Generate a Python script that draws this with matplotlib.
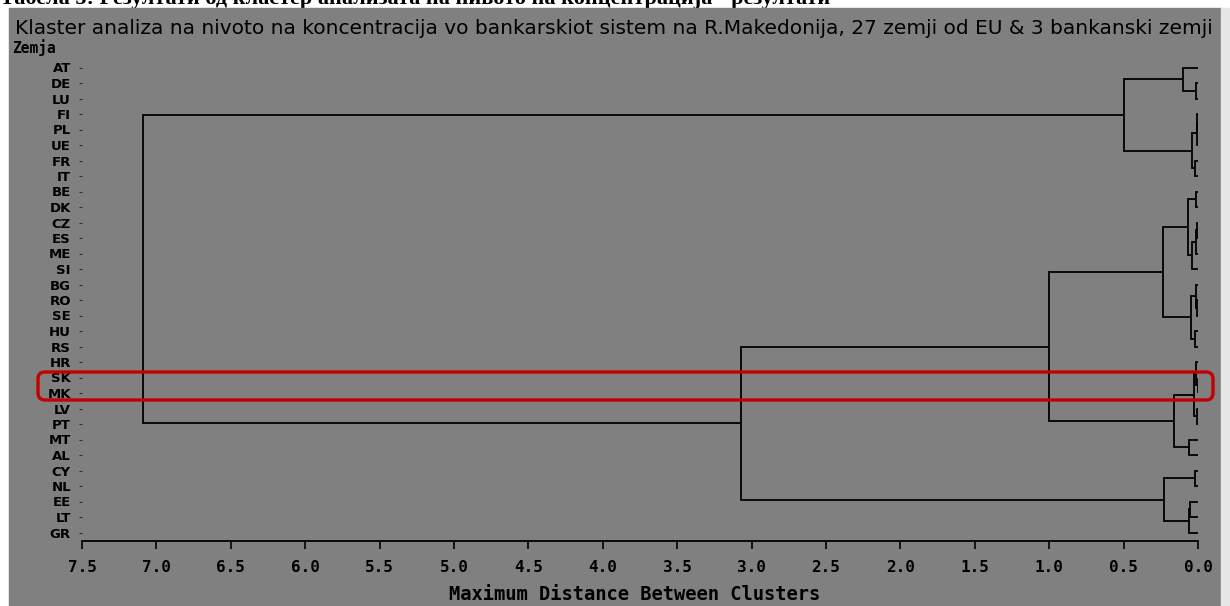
import matplotlib.pyplot as plt
from matplotlib.patches import Rectangle, FancyBboxPatch

# leaves, top to bottom
zemji = ["AT", "DE", "LU", "FI", "PL", "UE", "FR", "IT", "BE", "DK", "CZ",
         "ES", "ME", "SI", "BG", "RO", "SE", "HU", "RS", "HR", "SK", "MK",
         "LV", "PT", "MT", "AL", "CY", "NL", "EE", "LT", "GR"]

# merges: (left, right, distance); str = leaf, int = index of earlier merge
spojuvanja = [
    ("DE", "LU", 0.015),   # 0
    ("AT", 0, 0.10),       # 1
    ("FI", "PL", 0.005),   # 2
    (2, "UE", 0.010),      # 3
    ("FR", "IT", 0.018),   # 4
    (3, 4, 0.040),         # 5
    (1, 5, 0.50),          # 6
    ("BE", "DK", 0.015),   # 7
    ("CZ", "ES", 0.005),   # 8
    (8, "ME", 0.012),      # 9
    (9, "SI", 0.040),      # 10
    (7, 10, 0.070),        # 11
    ("RO", "SE", 0.005),   # 12
    ("BG", 12, 0.012),     # 13
    ("HU", "RS", 0.018),   # 14
    (13, 14, 0.047),       # 15
    (11, 15, 0.237),       # 16
    ("SK", "MK", 0.003),   # 17
    ("HR", 17, 0.012),     # 18
    ("LV", "PT", 0.008),   # 19
    (18, 19, 0.027),       # 20
    ("MT", "AL", 0.058),   # 21
    (20, 21, 0.16),        # 22
    (16, 22, 1.00),        # 23
    ("CY", "NL", 0.018),   # 24
    ("EE", "LT", 0.052),   # 25
    (25, "GR", 0.060),     # 26
    (24, 26, 0.23),        # 27
    (23, 27, 3.07),        # 28
    (6, 28, 7.09),         # 29
]

x_ticks = [7.5, 7.0, 6.5, 6.0, 5.5, 5.0, 4.5, 4.0, 3.5, 3.0, 2.5, 2.0, 1.5, 1.0, 0.5, 0.0]

naslov = ("Klaster analiza na nivoto na koncentracija vo bankarskiot sistem na "
          "R.Makedonija, 27 zemji od EU & 3 bankanski zemji")

W, H = 1230, 606
fig = plt.figure(figsize=(W / 100, H / 100), dpi=100, facecolor="white")

# grey SAS panel
fig.add_artist(Rectangle((9 / W, 0), (1221 - 9) / W, (H - 8) / H,
                         transform=fig.transFigure, color="#808080", zorder=0))
fig.add_artist(Rectangle((1221 / W, 0), 9 / W, (H - 8) / H,
                         transform=fig.transFigure, color="#e6e6e6", zorder=0))

# heading line of the document above, only its lower edge shows
fig.text(0.0, 1 - 4 / H, "Табела 5: Резултати од кластер анализата на нивото на концентрација - резултати",
         fontsize=16, fontweight="bold", family="Liberation Serif", va="baseline", ha="left",
         zorder=-1)

ax = fig.add_axes([82 / W, 65 / H, (1198 - 82) / W, (546 - 65) / H])
ax.patch.set_alpha(0)

pos = {z: i for i, z in enumerate(zemji)}
node_y, node_h = [], []


def najdi(ref):
    if isinstance(ref, str):
        return pos[ref], 0.0
    return node_y[ref], node_h[ref]


for a, b, h in spojuvanja:
    ya, ha = najdi(a)
    yb, hb = najdi(b)
    ax.plot([ha, h, h, hb], [ya, ya, yb, yb], color="black", lw=1.3,
            solid_joinstyle="miter", solid_capstyle="butt")
    node_y.append((ya + yb) / 2)
    node_h.append(h)

ax.set_xlim(7.5, 0)
ax.set_ylim(30 + (541 - 532.5) / 15.5, -(67.5 - 60) / 15.5)
for s in ["top", "right", "left"]:
    ax.spines[s].set_visible(False)
ax.spines["bottom"].set_linewidth(1.3)

ax.set_xticks(x_ticks)
ax.set_xticklabels([f"{v:.1f}" for v in x_ticks], family="DejaVu Sans Mono",
                   fontweight="bold", fontsize=11.5)
ax.tick_params(axis="x", length=6, width=1.2, pad=8)
ax.set_yticks(range(len(zemji)))
ax.set_yticklabels(zemji, family="DejaVu Sans", fontweight="bold", fontsize=9.5)
ax.tick_params(axis="y", length=2, width=0.8, pad=6, color="#303030")

fig.text(12 / W, 1 - 48 / H, "Zemja", family="DejaVu Sans Mono", fontweight="bold",
         fontsize=10.5, va="center", ha="left")
fig.text(15 / W, 1 - 29 / H, naslov, family="DejaVu Sans", fontsize=14.5,
         va="center", ha="left")
fig.text(635 / W, 1 - 595 / H, "Maximum Distance Between Clusters",
         family="DejaVu Sans Mono", fontweight="bold", fontsize=13.5,
         va="center", ha="center")

# red highlight around SK / MK
fig.add_artist(FancyBboxPatch((0.38, (H - 400) / 100), 12.13 - 0.38, 0.28,
                              boxstyle="round,pad=0,rounding_size=0.07",
                              transform=fig.dpi_scale_trans, fill=False,
                              edgecolor="#c40000", linewidth=2.4, zorder=5))

fig.savefig("out.png", dpi=100)
